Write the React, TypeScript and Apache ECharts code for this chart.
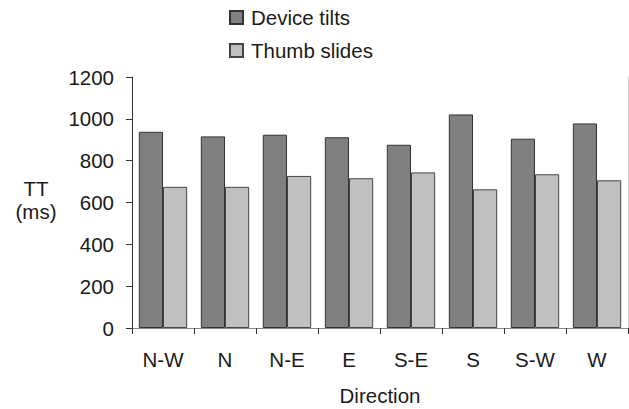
import React, { useEffect, useRef } from "react";
import * as echarts from "echarts";

const categories = ["N-W", "N", "N-E", "E", "S-E", "S", "S-W", "W"];
const deviceTilts = [938, 916, 924, 912, 876, 1021, 905, 978];
const thumbSlides = [675, 675, 727, 716, 744, 663, 735, 706];
const yTicks = [0, 200, 400, 600, 800, 1000, 1200];

const FONT = "'Liberation Sans', Arial, sans-serif";
const FS = 20.5;

export default function App() {
  const ref = useRef<HTMLDivElement>(null);
  useEffect(() => {
    if (!ref.current) return;
    const chart = echarts.init(ref.current, undefined, { renderer: "svg" });
    chart.setOption({
      animation: false,
      backgroundColor: "#ffffff",
      textStyle: { fontFamily: FONT },
      legend: {
        orient: "vertical",
        left: 229,
        top: 7,
        padding: 0,
        itemWidth: 13,
        itemHeight: 13,
        itemGap: 12,
        icon: "rect",
        textStyle: { fontSize: FS, color: "#1a1a1a", fontFamily: FONT, padding: [0, 0, 0, 3] },
        data: ["Device tilts", "Thumb slides"],
      },
      grid: { left: 132, right: 1, top: 77, bottom: 81, containLabel: false, outerBoundsMode: "none" },
      graphic: [
        {
          type: "text",
          x: 36,
          y: 177,
          style: {
            text: "TT\n(ms)",
            font: `${FS}px ${FONT}`,
            fill: "#1a1a1a",
            align: "center",
            verticalAlign: "top",
            lineHeight: 23,
          },
        },
      ],
      xAxis: [
        {
          type: "category",
          data: categories,
          name: "Direction",
          nameLocation: "middle",
          nameGap: 57,
          nameTextStyle: { fontSize: FS, color: "#1a1a1a", fontFamily: FONT },
          axisLine: { lineStyle: { color: "#333333", width: 1 } },
          axisTick: { show: true, length: 6, lineStyle: { color: "#333333" } },
          axisLabel: { fontSize: FS, color: "#1a1a1a", margin: 21, fontFamily: FONT },
        },
        {
          type: "category",
          data: categories,
          position: "top",
          axisLine: { show: true, lineStyle: { color: "#8a8a8a", width: 1 } },
          axisTick: { show: false },
          axisLabel: { show: false },
        },
      ],
      yAxis: [
        {
          type: "value",
          min: yTicks[0],
          max: yTicks[yTicks.length - 1],
          interval: 200,
          splitLine: { show: false },
          axisLine: { show: true, lineStyle: { color: "#333333", width: 1 } },
          axisTick: { show: true, length: 6, lineStyle: { color: "#333333" } },
          axisLabel: {
            fontSize: FS,
            color: "#1a1a1a",
            margin: 18,
            fontFamily: FONT,
            formatter: (v: number) => String(v),
          },
        },
        {
          type: "value",
          min: 0,
          max: 1200,
          interval: 200,
          position: "right",
          splitLine: { show: false },
          axisLine: { show: true, lineStyle: { color: "#d0d0d0", width: 1 } },
          axisTick: { show: false },
          axisLabel: { show: false },
        },
      ],
      series: [
        {
          name: "Device tilts",
          type: "bar",
          data: deviceTilts,
          barGap: "0%",
          barCategoryGap: "22%",
          itemStyle: { color: "#808080", borderColor: "#333333", borderWidth: 1 },
        },
        {
          name: "Thumb slides",
          type: "bar",
          data: thumbSlides,
          barGap: "0%",
          barCategoryGap: "22%",
          itemStyle: { color: "#c0c0c0", borderColor: "#444444", borderWidth: 1 },
        },
      ],
    });
    return () => chart.dispose();
  }, []);
  return <div ref={ref} style={{ width: 629, height: 409, position: "absolute", left: 0, top: 0 }} />;
}
